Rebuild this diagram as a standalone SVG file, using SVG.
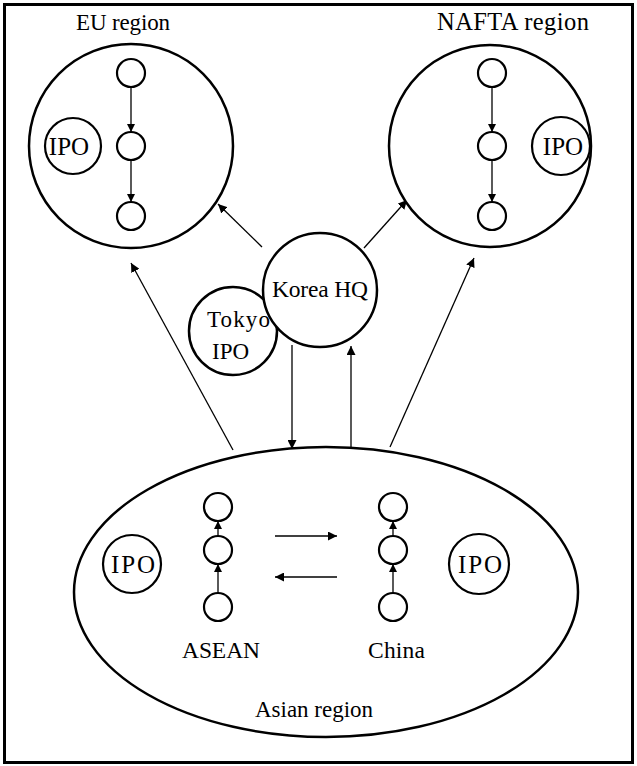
<svg xmlns="http://www.w3.org/2000/svg" width="637" height="766" viewBox="0 0 637 766">
<style>
text{font-family:"Liberation Serif","Times New Roman",serif;fill:#000}
.big{fill:#fff;stroke:#000;stroke-width:2.5}
.sm{fill:#fff;stroke:#000;stroke-width:2.2}
.ln{stroke:#000;stroke-width:1.3;fill:none}
.ipo{font-size:25px;text-anchor:middle}
</style>
<defs>
<marker id="ah" viewBox="0 0 10 10" refX="10" refY="5" markerWidth="9" markerHeight="9" markerUnits="userSpaceOnUse" orient="auto">
<path d="M0,0 L10,5 L0,10 z" fill="#000"/>
</marker>
<marker id="ahs" viewBox="0 0 10 10" refX="10" refY="5" markerWidth="8" markerHeight="8" markerUnits="userSpaceOnUse" orient="auto">
<path d="M0,0 L10,5 L0,10 z" fill="#000"/>
</marker>
</defs>
<rect x="4.5" y="4.5" width="628" height="758" fill="#fff" stroke="#000" stroke-width="3"/>

<g id="connectors">
<line class="ln" x1="233" y1="450" x2="131" y2="263" marker-end="url(#ah)"/>
<line class="ln" x1="390" y1="447" x2="474" y2="258" marker-end="url(#ah)"/>
<line class="ln" x1="262" y1="247" x2="218" y2="204" marker-end="url(#ah)"/>
<line class="ln" x1="364" y1="248" x2="407" y2="200" marker-end="url(#ah)"/>
<line class="ln" x1="292" y1="345" x2="292" y2="449" marker-end="url(#ah)"/>
<line class="ln" x1="351" y1="449" x2="351" y2="346" marker-end="url(#ah)"/>
</g>

<g id="eu-region">
<text x="76" y="30" font-size="23" textLength="94">EU region</text>
<circle class="big" cx="131" cy="146" r="102"/>
<g id="eu-ipo"><circle class="sm" cx="73" cy="146" r="28"/><text class="ipo" x="69" y="155">IPO</text></g>
<circle class="sm" cx="131" cy="73" r="14"/>
<circle class="sm" cx="131" cy="146" r="14"/>
<circle class="sm" cx="131" cy="216" r="14"/>
<line class="ln" x1="131" y1="87" x2="131" y2="132" marker-end="url(#ahs)"/>
<line class="ln" x1="131" y1="160" x2="131" y2="202" marker-end="url(#ahs)"/>
</g>

<g id="nafta-region">
<text x="437" y="30" font-size="24.5" textLength="152">NAFTA region</text>
<circle class="big" cx="490" cy="146" r="101"/>
<g id="nafta-ipo"><circle class="sm" cx="561" cy="146" r="29"/><text class="ipo" x="563" y="155">IPO</text></g>
<circle class="sm" cx="492" cy="73" r="14"/>
<circle class="sm" cx="492" cy="146" r="14"/>
<circle class="sm" cx="492" cy="216" r="14"/>
<line class="ln" x1="492" y1="87" x2="492" y2="132" marker-end="url(#ahs)"/>
<line class="ln" x1="492" y1="160" x2="492" y2="202" marker-end="url(#ahs)"/>
</g>

<g id="tokyo-ipo">
<circle class="big" cx="233" cy="331" r="44"/>
<text x="207" y="327" font-size="23" textLength="63">Tokyo</text>
<text x="212" y="359" font-size="23">IPO</text>
</g>

<g id="korea-hq">
<circle class="big" cx="320" cy="290" r="57"/>
<text x="272" y="297" font-size="23.5" textLength="96">Korea HQ</text>
</g>

<g id="asian-region">
<ellipse class="big" cx="326" cy="592" rx="252" ry="145"/>
<g id="asian-ipo-left"><circle class="sm" cx="132" cy="564" r="29"/><text class="ipo" x="133" y="573" textLength="44">IPO</text></g>
<g id="asian-ipo-right"><circle class="sm" cx="479" cy="564" r="30"/><text class="ipo" x="480" y="573" textLength="44">IPO</text></g>
<g id="asean">
<circle class="sm" cx="218" cy="507" r="14"/>
<circle class="sm" cx="218" cy="550" r="14"/>
<circle class="sm" cx="218" cy="607" r="14"/>
<line class="ln" x1="218" y1="593" x2="218" y2="564" marker-end="url(#ahs)"/>
<line class="ln" x1="218" y1="536" x2="218" y2="521" marker-end="url(#ahs)"/>
<text x="182" y="658" font-size="23.5" textLength="78">ASEAN</text>
</g>
<g id="china">
<circle class="sm" cx="393" cy="507" r="14"/>
<circle class="sm" cx="393" cy="550" r="14"/>
<circle class="sm" cx="393" cy="607" r="14"/>
<line class="ln" x1="393" y1="593" x2="393" y2="564" marker-end="url(#ahs)"/>
<line class="ln" x1="393" y1="536" x2="393" y2="521" marker-end="url(#ahs)"/>
<text x="368" y="658" font-size="23.5" textLength="57">China</text>
</g>
<line class="ln" x1="275" y1="536" x2="337" y2="536" marker-end="url(#ah)"/>
<line class="ln" x1="337" y1="577" x2="275" y2="577" marker-end="url(#ah)"/>
<text x="255" y="717" font-size="23" textLength="118">Asian region</text>
</g>
</svg>
